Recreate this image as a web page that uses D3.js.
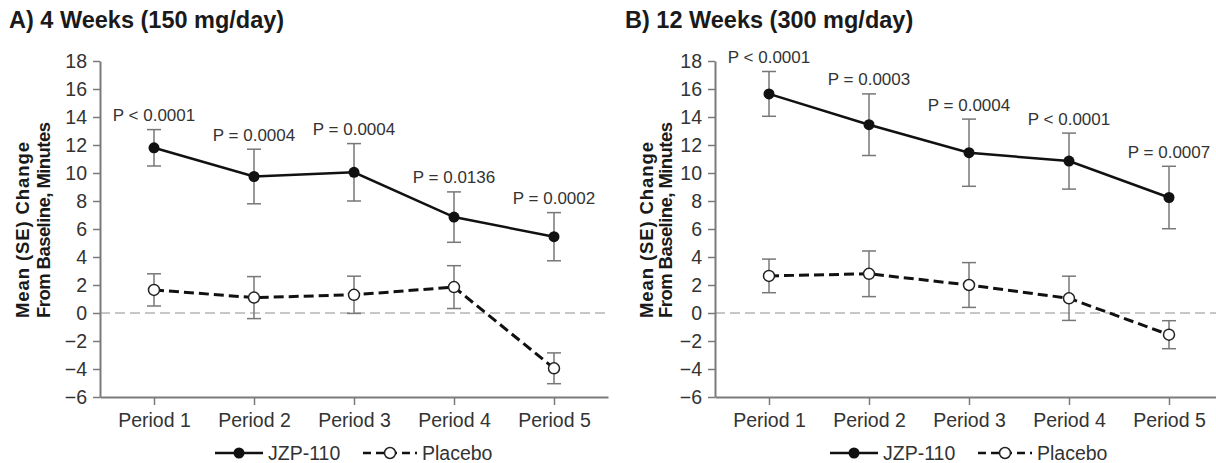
<!DOCTYPE html>
<html>
<head>
<meta charset="utf-8">
<script src="https://cdn.jsdelivr.net/npm/d3@7"></script>
<style>
  html, body { margin: 0; padding: 0; background: #fff; }
  svg { display: block; font-family: "Liberation Sans", Arial, Helvetica, sans-serif; }
</style>
</head>
<body>
<svg id="chart" width="1216" height="463"></svg>
<script>
// ---------- data ----------
const periods = ["Period 1", "Period 2", "Period 3", "Period 4", "Period 5"];
const yTicks = [-6, -4, -2, 0, 2, 4, 6, 8, 10, 12, 14, 16, 18];

const titleA = "A) 4 Weeks (150 mg/day)";
const jzpA = [11.8, 9.75, 10.05, 6.85, 5.45];
const jzpA_se = [1.3, 1.95, 2.05, 1.8, 1.72];
const placeboA = [1.65, 1.1, 1.3, 1.85, -3.95];
const placeboA_se = [1.15, 1.5, 1.33, 1.53, 1.1];
const pA = ["P < 0.0001", "P = 0.0004", "P = 0.0004", "P = 0.0136", "P = 0.0002"];

const titleB = "B) 12 Weeks (300 mg/day)";
const jzpB = [15.65, 13.45, 11.45, 10.85, 8.25];
const jzpB_se = [1.6, 2.2, 2.4, 2.0, 2.23];
const placeboB = [2.65, 2.8, 2.0, 1.05, -1.55];
const placeboB_se = [1.2, 1.63, 1.6, 1.58, 1.0];
const pB = ["P < 0.0001", "P = 0.0003", "P = 0.0004", "P < 0.0001", "P = 0.0007"];

const yLabel = ["Mean (SE) Change", "From Baseline, Minutes"];
const seriesNames = ["JZP-110", "Placebo"];

// ---------- drawing ----------
const svg = d3.select("#chart");
const y = d3.scaleLinear().domain([-6, 18]).range([397, 61]);

function drawPanel(ox, title, jzp, jzpSe, plc, plcSe, pvals, lab) {
  const g = svg.append("g");
  const x = d3.scalePoint().domain(periods).range([ox, ox + 508]).padding(0.54);

  // title
  g.append("text").attr("x", ox + lab.titleDx).attr("y", 28)
    .attr("font-size", 23.5).attr("font-weight", "bold").attr("fill", "#1a1a1a")
    .text(title);

  // y label
  const ylLen = [176, 196];
  yLabel.forEach((t, i) => {
    g.append("text")
      .attr("transform", `translate(${ox + lab.yl[i]},318) rotate(-90)`)
      .attr("text-anchor", "start")
      .attr("font-size", 18.5).attr("font-weight", "bold").attr("fill", "#1a1a1a")
      .attr("textLength", ylLen[i]).attr("lengthAdjust", "spacing")
      .text(t);
  });

  // zero line
  g.append("line").attr("x1", ox).attr("x2", ox + 508)
    .attr("y1", y(0)).attr("y2", y(0))
    .attr("stroke", "#b5b5b5").attr("stroke-width", 1.5).attr("stroke-dasharray", "10,5");

  // axes
  const ay = g.append("g").attr("transform", `translate(${ox},0)`)
    .call(d3.axisLeft(y).tickValues(yTicks).tickSize(7).tickSizeOuter(0).tickPadding(6));
  const ax = g.append("g").attr("transform", `translate(0,397)`)
    .call(d3.axisBottom(x).tickSize(8).tickSizeOuter(0).tickPadding(8));
  [ay, ax].forEach(a => {
    a.select(".domain").attr("stroke", "#7a7a7a").attr("stroke-width", 2);
    a.selectAll(".tick line").attr("stroke", "#7a7a7a").attr("stroke-width", 1.5);
    a.selectAll(".tick text").attr("font-size", 19.5).attr("fill", "#333")
      .attr("font-family", "Liberation Sans, Arial, sans-serif");
  });
  ay.selectAll(".tick text").attr("dy", "0.34em");
  ax.selectAll(".tick text").attr("dy", "0.72em");

  // error bars
  function errBars(vals, se) {
    const eb = g.append("g").attr("stroke", "#777").attr("stroke-width", 1.5).attr("fill", "none");
    vals.forEach((v, i) => {
      const cx = x(periods[i]);
      eb.append("line").attr("x1", cx).attr("x2", cx).attr("y1", y(v + se[i])).attr("y2", y(v - se[i]));
      eb.append("line").attr("x1", cx - 7).attr("x2", cx + 7).attr("y1", y(v + se[i])).attr("y2", y(v + se[i]));
      eb.append("line").attr("x1", cx - 7).attr("x2", cx + 7).attr("y1", y(v - se[i])).attr("y2", y(v - se[i]));
    });
  }
  errBars(jzp, jzpSe);
  errBars(plc, plcSe);

  const line = d3.line().x((d, i) => x(periods[i])).y(d => y(d));
  g.append("path").datum(plc).attr("d", line).attr("fill", "none")
    .attr("stroke", "#111").attr("stroke-width", 3).attr("stroke-dasharray", "10,5");
  g.append("path").datum(jzp).attr("d", line).attr("fill", "none")
    .attr("stroke", "#111").attr("stroke-width", 2.5);

  g.selectAll(null).data(plc).enter().append("circle")
    .attr("cx", (d, i) => x(periods[i])).attr("cy", d => y(d)).attr("r", 5.5)
    .attr("fill", "#fff").attr("stroke", "#222").attr("stroke-width", 1.5);
  g.selectAll(null).data(jzp).enter().append("circle")
    .attr("cx", (d, i) => x(periods[i])).attr("cy", d => y(d)).attr("r", 5.5)
    .attr("fill", "#111");

  // p-values
  g.selectAll(null).data(pvals).enter().append("text")
    .attr("x", (d, i) => x(periods[i])).attr("y", (d, i) => y(jzp[i] + jzpSe[i]) - 8.5)
    .attr("text-anchor", "middle").attr("font-size", 17).attr("fill", "#333")
    .text(d => d);

  // legend
  const ly = 453;
  const lg = g.append("g");
  lg.append("line").attr("x1", ox + 115).attr("x2", ox + 163).attr("y1", ly).attr("y2", ly)
    .attr("stroke", "#111").attr("stroke-width", 2.5);
  lg.append("circle").attr("cx", ox + 139).attr("cy", ly).attr("r", 5.5).attr("fill", "#111");
  lg.append("text").attr("x", ox + 168).attr("y", ly + 7).attr("font-size", 19.5).attr("fill", "#333")
    .text(seriesNames[0]);
  lg.append("line").attr("x1", ox + 263).attr("x2", ox + 317).attr("y1", ly).attr("y2", ly)
    .attr("stroke", "#111").attr("stroke-width", 2.5).attr("stroke-dasharray", "8,5");
  lg.append("circle").attr("cx", ox + 290).attr("cy", ly).attr("r", 5.5)
    .attr("fill", "#fff").attr("stroke", "#222").attr("stroke-width", 1.5);
  lg.append("text").attr("x", ox + 322).attr("y", ly + 7).attr("font-size", 19.5).attr("fill", "#333")
    .text(seriesNames[1]);
}

drawPanel(100, titleA, jzpA, jzpA_se, placeboA, placeboA_se, pA, { titleDx: -91, yl: [-71, -50] });
drawPanel(715, titleB, jzpB, jzpB_se, placeboB, placeboB_se, pB, { titleDx: -90, yl: [-62, -43] });
</script>
</body>
</html>
